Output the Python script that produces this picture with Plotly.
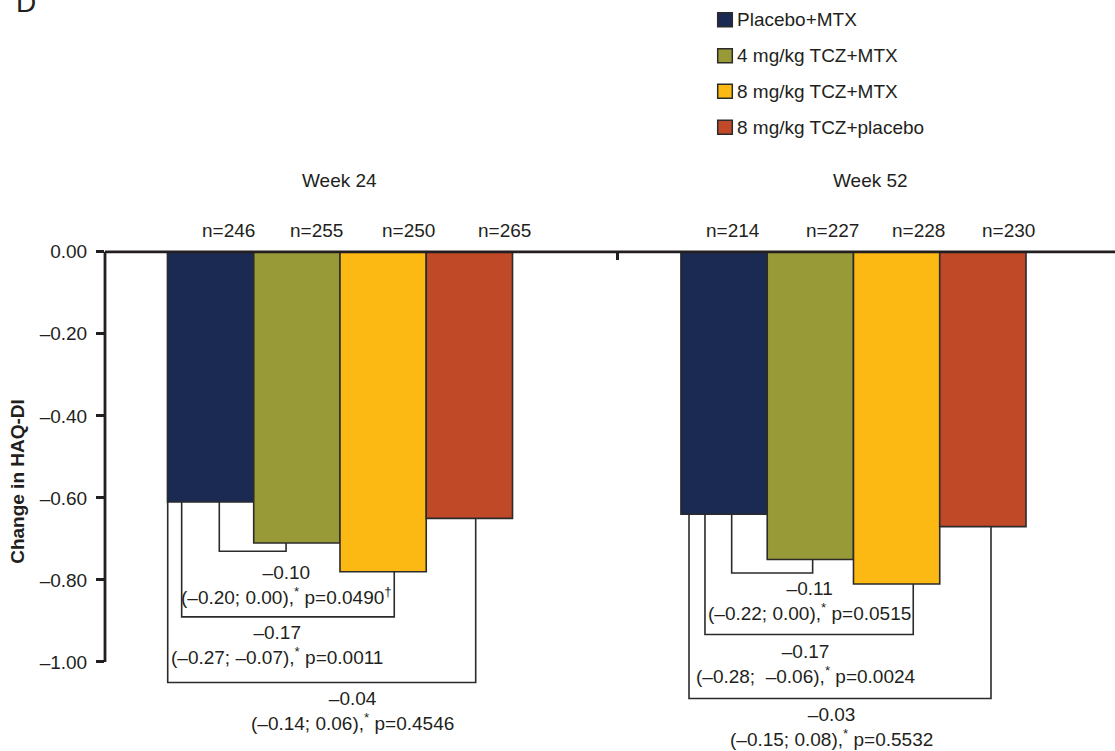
import plotly.graph_objects as go

# ---------------- data ----------------
weeks = ["Week 24", "Week 52"]
treatments = ["Placebo+MTX", "4 mg/kg TCZ+MTX", "8 mg/kg TCZ+MTX", "8 mg/kg TCZ+placebo"]
change_w24 = [-0.61, -0.71, -0.78, -0.65]
change_w52 = [-0.64, -0.75, -0.81, -0.67]
n_w24 = [246, 255, 250, 265]
n_w52 = [214, 227, 228, 230]

# comparisons versus Placebo+MTX (index of compared treatment)
cmp_idx = [1, 2, 3]
diff_w24 = ["–0.10", "–0.17", "–0.04"]
ci_w24 = ["(–0.20; 0.00)", "(–0.27; –0.07)", "(–0.14; 0.06)"]
p_w24 = ["0.0490<sup>†</sup>", "0.0011", "0.4546"]
diff_w52 = ["–0.11", "–0.17", "–0.03"]
ci_w52 = ["(–0.22; 0.00)", "(–0.28;\u00a0 –0.06)", "(–0.15; 0.08)"]
p_w52 = ["0.0515", "0.0024", "0.5532"]

y_ticks = [0.0, -0.2, -0.4, -0.6, -0.8, -1.0]
y_ticktext = ["0.00", "–0.20", "–0.40", "–0.60", "–0.80", "–1.00"]

# ---------------- style / layout ----------------
colors = ["#1B2A52", "#989A37", "#FDB913", "#C04A28"]
ink = "#231F20"
FONT = "Liberation Sans, Arial, sans-serif"
FS = 19
W, H = 1115, 751
ML, MR, MT, MB = 105, 0, 219, 7
PW, PH = W - ML - MR, H - MT - MB
bar_w = 0.168
y_range = [-1.2, 0.08]
x_range = [-0.4576, 1.5093]


def pxx(p):
    return (p - ML) / PW


def pxy(p):
    return (H - MB - p) / PH


fig = go.Figure()
series = list(zip(change_w24, change_w52))
for i, name in enumerate(treatments):
    off = (i - 1.5) * bar_w
    fig.add_trace(go.Bar(
        x=[g + off for g in range(len(weeks))],
        y=list(series[i]),
        width=bar_w,
        name=name,
        marker=dict(color=colors[i], line=dict(color="#2B2B2B", width=1.6)),
        showlegend=False,
        hoverinfo="name+y",
    ))

# bracket geometry per week: (left offset, right offset, bottom level, label x offset, label y)
geom = [
    [(-0.235, -0.105, -0.730, -0.105, -0.8126),
     (-0.3083, 0.1057, -0.890, -0.123, -0.959),
     (-0.3355, 0.2643, -1.050, 0.0249, -1.1206)],
    [(-0.2372, -0.0795, -0.783, -0.0854, -0.852),
     (-0.2892, 0.1164, -0.933, -0.0919, -1.004),
     (-0.3203, 0.2678, -1.089, -0.0436, -1.1596)],
]
week_vals = [change_w24, change_w52]
week_diff = [diff_w24, diff_w52]
week_ci = [ci_w24, ci_w52]
week_p = [p_w24, p_w52]

shapes = []
annotations = []
for g in range(len(weeks)):
    vals = week_vals[g]
    for k, j in enumerate(cmp_idx):
        lo, ro, yb, lx, ly = geom[g][k]
        x1, x2 = g + lo, g + ro
        path = f"M {x1},{vals[0]} L {x1},{yb} L {x2},{yb} L {x2},{vals[j]}"
        shapes.append(dict(type="path", path=path, xref="x", yref="y",
                           line=dict(color="#2B2B2B", width=1.6), layer="above"))
        txt = f"{week_diff[g][k]}<br>{week_ci[g][k]},<sup>*</sup> p={week_p[g][k]}"
        annotations.append(dict(x=g + lx, y=ly, xref="x", yref="y", text=txt,
                                showarrow=False, xanchor="center", yanchor="middle",
                                font=dict(family=FONT, size=FS, color=ink)))

# n labels
n_off = [[-0.2166, -0.0463, 0.1334, 0.3198], [-0.2347, -0.0405, 0.127, 0.3028]]
for g, ns in enumerate([n_w24, n_w52]):
    for i, n in enumerate(ns):
        annotations.append(dict(x=g + n_off[g][i], y=0.0512, xref="x", yref="y",
                                text=f"n={n}", showarrow=False,
                                xanchor="center", yanchor="middle",
                                font=dict(family=FONT, size=FS, color=ink)))

# week labels
week_x = [0.0, 1.0335]
for g, wk in enumerate(weeks):
    annotations.append(dict(x=week_x[g], y=pxy(181), xref="x", yref="paper",
                            text=wk, showarrow=False, xanchor="center", yanchor="middle",
                            font=dict(family=FONT, size=FS, color=ink)))

# manual legend
leg_y = [19.7, 55.7, 91.3, 127.3]
for i, name in enumerate(treatments):
    shapes.append(dict(type="rect", xref="paper", yref="paper",
                       x0=pxx(717.7), x1=pxx(732.3),
                       y0=pxy(leg_y[i] + 7), y1=pxy(leg_y[i] - 7),
                       fillcolor=colors[i], line=dict(color="#2B2B2B", width=1.5)))
    annotations.append(dict(x=pxx(735.0), y=pxy(leg_y[i]), xref="paper", yref="paper",
                            text=name, showarrow=False, xanchor="left", yanchor="middle",
                            font=dict(family=FONT, size=FS, color=ink)))

# panel letter (cut at top, as in the source figure)
annotations.append(dict(x=pxx(14), y=pxy(20), xref="paper", yref="paper", text="D",
                        showarrow=False, xanchor="left", yanchor="bottom",
                        font=dict(family=FONT, size=28, color=ink)))

# axis lines
shapes.append(dict(type="line", xref="paper", yref="y", x0=0, x1=1, y0=0, y1=0,
                   line=dict(color=ink, width=2.8), layer="above"))
shapes.append(dict(type="line", xref="paper", yref="y", x0=0, x1=0, y0=0.0, y1=-1.0,
                   line=dict(color=ink, width=2.8), layer="above"))

fig.update_layout(
    width=W, height=H,
    margin=dict(l=ML, r=MR, t=MT, b=MB, autoexpand=False),
    paper_bgcolor="white", plot_bgcolor="white",
    barmode="overlay",
    font=dict(family=FONT, size=FS, color=ink),
    shapes=shapes, annotations=annotations,
    xaxis=dict(range=x_range, showgrid=False, zeroline=False, showline=False,
               tickvals=[0.5414], ticktext=[""], ticks="outside", ticklen=7,
               tickwidth=2.8, tickcolor=ink, anchor="free", position=pxy(251.7),
               fixedrange=True),
    yaxis=dict(range=y_range, showgrid=False, zeroline=False, showline=False,
               tickvals=y_ticks, ticktext=y_ticktext, ticks="outside", ticklen=8,
               tickwidth=2.8, tickcolor=ink, ticklabelstandoff=5,
               tickfont=dict(family=FONT, size=FS, color=ink),
               title=dict(text="Change in HAQ-DI", standoff=10,
                          font=dict(family=FONT, size=FS, color=ink, weight="bold")),
               fixedrange=True),
)

fig.write_html("out.html", config={"displayModeBar": False},
               post_script="document.body.style.margin='0px';document.body.style.overflow='hidden';")
